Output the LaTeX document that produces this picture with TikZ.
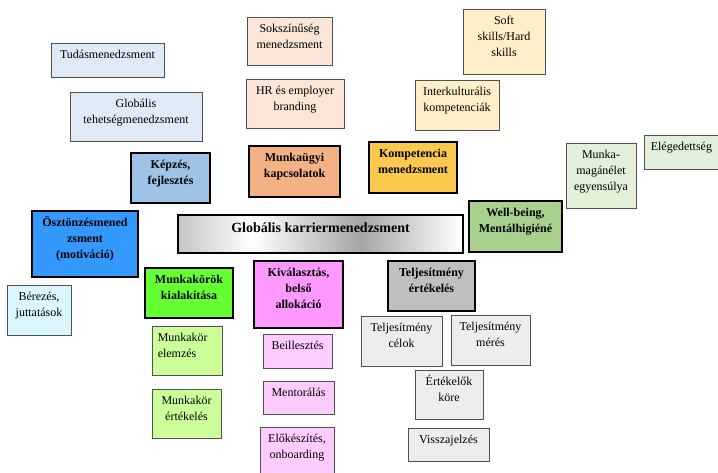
\documentclass[tikz,border=0pt]{standalone}
\usepackage{fontspec}
\setmainfont{Liberation Serif}
\pgfdeclarehorizontalshading{karrier}{100bp}{color(0bp)=(gray!45); color(25bp)=(gray!45); color(38bp)=(white); color(57bp)=(gray!70); color(75bp)=(white); color(100bp)=(white)}
\definecolor{cTud}{HTML}{DEEBF7}
\definecolor{cKep}{HTML}{9DC3E6}
\definecolor{cSok}{HTML}{FBE5D6}
\definecolor{cMun}{HTML}{F4B183}
\definecolor{cSof}{HTML}{FFEFC8}
\definecolor{cKom}{HTML}{FAC94E}
\definecolor{cMag}{HTML}{E2F0D9}
\definecolor{cWel}{HTML}{A9D18E}
\definecolor{cOsz}{HTML}{3399FF}
\definecolor{cBer}{HTML}{DAF7FF}
\definecolor{cMkk}{HTML}{66FF33}
\definecolor{cMke}{HTML}{CCFF99}
\definecolor{cKiv}{HTML}{FF99FF}
\definecolor{cBei}{HTML}{FFCCFF}
\definecolor{cTel}{HTML}{BFBFBF}
\definecolor{cTce}{HTML}{EDEDED}
\definecolor{cEdge}{HTML}{505050}
\newcommand\firstline{\rule{0pt}{11.5pt}}
\newcommand\bx[8]{%
  \node[#1, minimum width={#5-#3}, minimum height={#6-#4}] (#2) at ({(#3+#5)/2},{(#4+#6)/2}) {};
  \node[#7, anchor=north] (#2t) at ([yshift=-4.5pt]#2.north) {\firstline#8};}
\begin{document}
\begin{tikzpicture}[x=1pt,y=-1pt,
  thinbox/.style={draw=cEdge, line width=0.9pt, inner sep=0pt, fill=#1},
  thickbox/.style={draw=black, line width=2pt, inner sep=0pt, fill=#1},
  txt/.style={align=center, inner sep=0pt, font=\fontsize{12}{16}\selectfont},
  btxt/.style={txt, font=\fontsize{12}{16}\selectfont\bfseries},
  ltxt/.style={txt, align=left}]
\useasboundingbox (0,0) rectangle (718,472);
\fill[white] (0,0) rectangle (718,472);
\clip (0,0) rectangle (718,472);
\bx{thinbox=cTud}{tudas}{51}{43}{164}{77}{txt}{Tudásmenedzsment}
\bx{thinbox=cTud}{globtal}{70}{92}{202}{141}{txt}{Globális\\tehetségmenedzsment}
\bx{thickbox=cKep}{kepzes}{131}{153}{210}{203}{btxt}{Képzés,\\fejlesztés}
\bx{thinbox=cSok}{sokszin}{247}{17}{332}{65}{txt}{Sokszínűség\\menedzsment}
\bx{thinbox=cSok}{hr}{246}{79}{344}{128}{txt}{HR és employer\\branding}
\bx{thickbox=cMun}{munkaugyi}{249}{146}{340}{197}{btxt}{Munkaügyi\\kapcsolatok}
\bx{thinbox=cSof}{soft}{463}{9}{545}{74}{txt}{Soft\\skills/Hard\\skills}
\bx{thinbox=cSof}{interk}{415}{80}{499}{130}{txt}{Interkulturális\\kompetenciák}
\bx{thickbox=cKom}{kompet}{369}{142}{457}{193}{btxt}{Kompetencia\\menedzsment}
\bx{thinbox=cMag}{munkamag}{566}{143}{636}{208}{txt}{Munka-\\magánélet\\egyensúlya}
\node[thinbox=cMag, minimum width=80, minimum height=34] (eleged) at (684,152) {};
\node[txt, anchor=north west] (elegedt) at ([yshift=-4.5pt, xshift=7pt]eleged.north west) {\firstline Elégedettség};
\bx{thickbox=cWel}{wellbeing}{469}{201}{562}{252}{btxt}{Well-being,\\Mentálhigiéné}
\node[draw=black, line width=2pt, shading=karrier, minimum width=285, minimum height=38, inner sep=0pt] (karrier) at (320.5,234) {};
\node[txt, anchor=base, font=\fontsize{14}{16}\selectfont\bfseries] (karriert) at ([yshift=-18pt]karrier.north) {Globális karriermenedzsment};
\bx{thickbox=cOsz}{osztonz}{32}{211}{138}{277}{btxt}{Ösztönzésmened\\zsment\\(motiváció)}
\bx{thinbox=cBer}{berezes}{7}{285}{71}{335}{txt}{Bérezés,\\juttatások}
\bx{thickbox=cMkk}{munkakorok}{145}{268}{233}{318}{btxt}{Munkakörök\\kialakítása}
\node[thinbox=cMke, minimum width=70, minimum height=49] (mkelemzes) at (187,350.5) {};
\node[ltxt, anchor=north west] (mkelemzest) at ([yshift=-4.5pt, xshift=6pt]mkelemzes.north west) {\firstline Munkakör\\elemzés};
\bx{thinbox=cMke}{mkertekeles}{152}{389}{221}{438}{txt}{Munkakör\\értékelés}
\bx{thickbox=cKiv}{kivalasztas}{254}{261}{343}{328}{btxt}{Kiválasztás,\\belső\\allokáció}
\bx{thinbox=cBei}{beill}{263}{334}{332}{368}{txt}{Beillesztés}
\bx{thinbox=cBei}{mentor}{263}{381}{334}{414}{txt}{Mentorálás}
\bx{thinbox=cBei}{elokesz}{260}{427}{334}{480}{txt}{Előkészítés,\\onboarding}
\bx{thickbox=cTel}{teljert}{388}{261}{475}{311}{btxt}{Teljesítmény\\értékelés}
\bx{thinbox=cTce}{tcelok}{361}{316}{442}{366}{txt}{Teljesítmény\\célok}
\bx{thinbox=cTce}{tmeres}{451}{315}{530}{365}{txt}{Teljesítmény\\mérés}
\bx{thinbox=cTce}{ertkore}{415}{370}{483}{419}{txt}{Értékelők\\köre}
\bx{thinbox=cTce}{vissza}{408}{428}{489}{461}{txt}{Visszajelzés}
\end{tikzpicture}
\end{document}
